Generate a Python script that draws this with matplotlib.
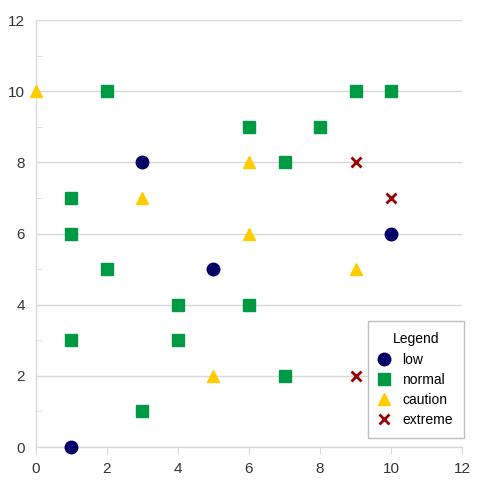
import matplotlib
matplotlib.use("Agg")
import matplotlib.pyplot as plt
from matplotlib.ticker import MultipleLocator

# data
low_x = [1, 3, 5, 10]
low_y = [0, 8, 5, 6]
normal_x = [2, 1, 1, 2, 1, 3, 4, 4, 6, 6, 7, 8, 9, 10, 7]
normal_y = [10, 7, 6, 5, 3, 1, 4, 3, 9, 4, 8, 9, 10, 10, 2]
caution_x = [0, 3, 6, 6, 5, 9]
caution_y = [10, 7, 8, 6, 2, 5]
extreme_x = [9, 10, 9]
extreme_y = [8, 7, 2]

plt.rcParams['font.family'] = ['Liberation Sans', 'DejaVu Sans']

fig = plt.figure(figsize=(4.89, 4.88), dpi=100)
ax = fig.add_axes([0.0736, 0.084, 0.8712, 0.875])

grid_c = '#d9d9d9'
ax.plot(low_x, low_y, 'o', color='#000066', markersize=9, label='low', clip_on=False, zorder=3)
ax.plot(normal_x, normal_y, 's', color='#009A44', markersize=8.5, label='normal', clip_on=False, zorder=3)
ax.plot(caution_x, caution_y, '^', color='#FFCC00', markersize=8.5, label='caution', clip_on=False, zorder=3)
ax.plot(extreme_x, extreme_y, 'x', color='#990000', markersize=7, markeredgewidth=2,
        label='extreme', clip_on=False, zorder=3)

ax.set_xlim(0, 12)
ax.set_ylim(0, 12)
ax.xaxis.set_major_locator(MultipleLocator(2))
ax.yaxis.set_major_locator(MultipleLocator(2))
ax.yaxis.set_minor_locator(MultipleLocator(1))
ax.grid(axis='y', color=grid_c, linewidth=1)
ax.set_axisbelow(True)

for s in ['top', 'right']:
    ax.spines[s].set_visible(False)
for s in ['left', 'bottom']:
    ax.spines[s].set_color(grid_c)
    ax.spines[s].set_linewidth(1)

ax.tick_params(axis='x', direction='out', length=5, color=grid_c, labelsize=11,
               labelcolor='#333333', pad=6)
ax.tick_params(axis='y', which='major', length=0, labelsize=11, labelcolor='#333333', pad=8)
ax.tick_params(axis='y', which='minor', direction='in', length=4, color=grid_c)

leg = ax.legend(title='Legend', loc='lower right', bbox_to_anchor=(1.005, 0.02),
                fontsize=10, title_fontsize=10, fancybox=False, edgecolor='#bfbfbf',
                framealpha=1, borderpad=0.8, labelspacing=0.45, handletextpad=1.0,
                handlelength=0.7, borderaxespad=0)
leg.get_frame().set_linewidth(1)

fig.savefig('out.png', dpi=100)
